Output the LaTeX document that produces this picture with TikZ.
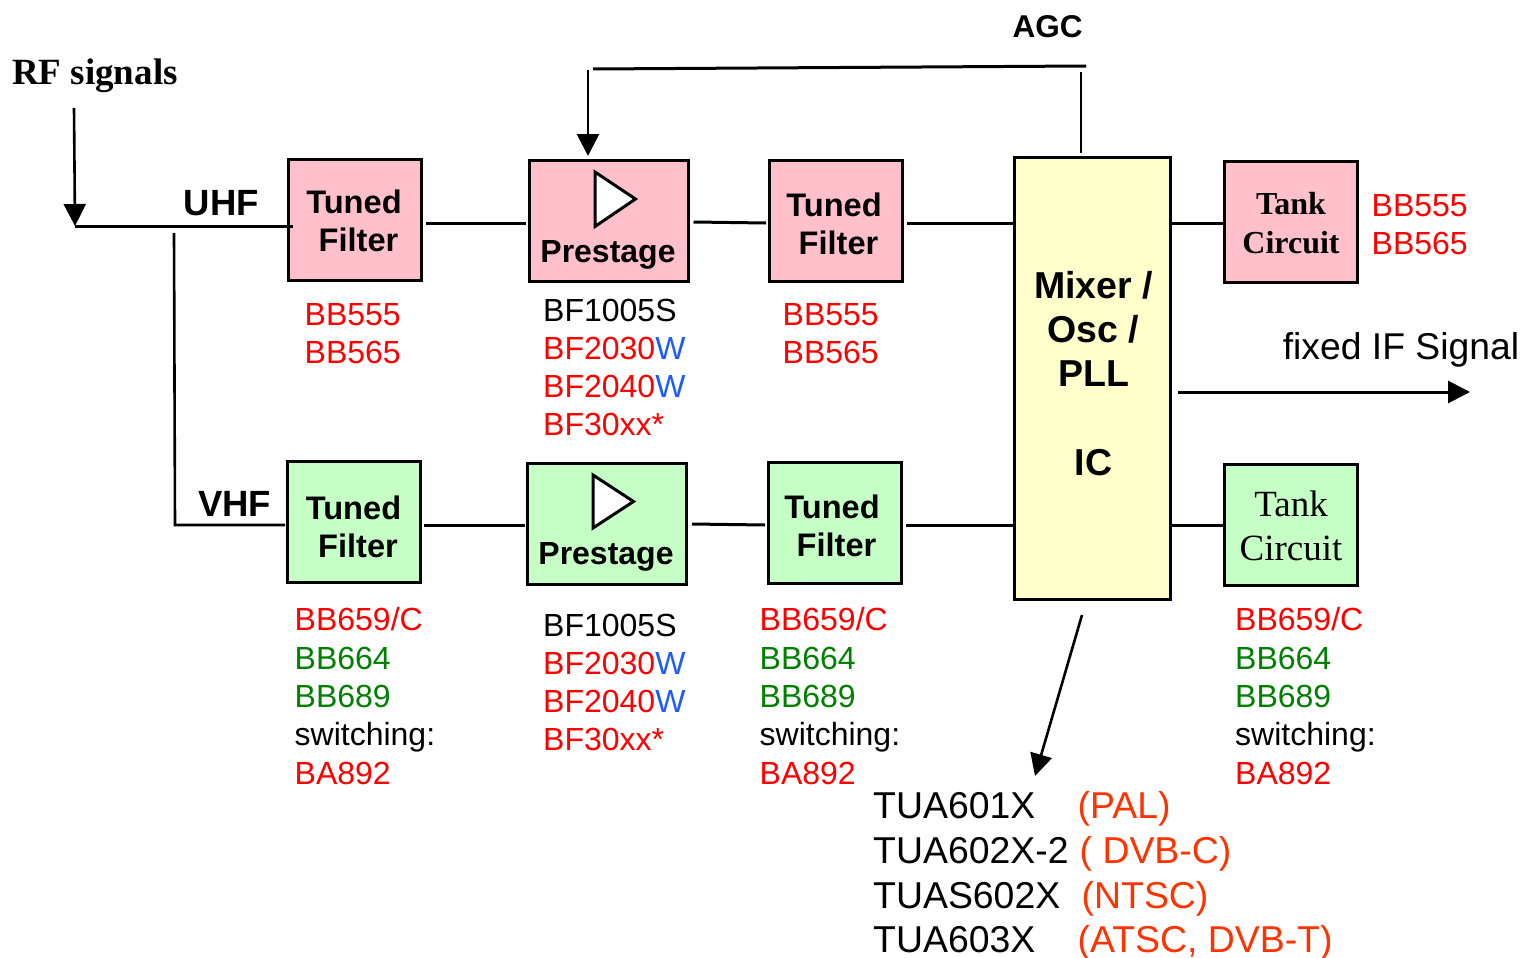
\documentclass[tikz,border=0pt]{standalone}
\usepackage{fontspec}
\setmainfont{Liberation Sans}
\newfontfamily\timesfont{Liberation Serif}
\usetikzlibrary{arrows.meta}
\definecolor{pinkbox}{HTML}{FFC0CB}
\definecolor{greenbox}{HTML}{C6FFC6}
\definecolor{yellowbox}{HTML}{FFFFCC}
\definecolor{partred}{HTML}{FF0000}
\definecolor{partblue}{HTML}{1C5CFF}
\definecolor{partgreen}{HTML}{008000}
\definecolor{stdorange}{HTML}{FF3300}
\newcommand{\fsize}[2]{\fontsize{#1}{#2}\selectfont}
\tikzset{
  wire/.style={line width=3pt},
  thinwire/.style={line width=2.6pt},
  blockbox/.style={draw,line width=3pt,inner sep=0pt},
  filterbox/.style={blockbox,minimum width=133pt,minimum height=121pt},
  prebox/.style={blockbox,minimum width=159pt,minimum height=121pt},
  tflabel/.style={inner sep=0pt,align=center,font=\fsize{32.6}{38}\bfseries},
  prelabel/.style={inner sep=0pt,font=\fsize{32}{38}\bfseries},
  parts/.style={anchor=north west,inner sep=0pt,align=left,font=\fsize{32}{38.3}},
  boldtext/.style={inner sep=0pt,font=\fsize{36.5}{40}\bfseries},
  amp/.style={draw,fill=white,line width=3pt,line join=miter}
}
\begin{document}
\begin{tikzpicture}[x=1pt,y=-1pt,>={Triangle[length=22pt,width=22pt]}]
  \useasboundingbox (0,0) rectangle (1524,958);
  \node[filterbox,fill=pinkbox] (tfuhf) at (354.5,219.5) {};
  \node[prebox,fill=pinkbox] (preuhf) at (608.5,220.5) {};
  \node[filterbox,fill=pinkbox] (tfuhfb) at (836,220.5) {};
  \node[blockbox,fill=yellowbox,minimum width=156pt,minimum height=442pt] (mixer) at (1092,378) {};
  \node[filterbox,fill=pinkbox] (tankuhf) at (1290.5,222) {};
  \node[filterbox,fill=greenbox] (tfvhf) at (353.5,522) {};
  \node[prebox,fill=greenbox] (prevhf) at (607,523.5) {};
  \node[filterbox,fill=greenbox] (tfvhfb) at (834.5,523) {};
  \node[filterbox,fill=greenbox] (tankvhf) at (1290.5,524.5) {};
  \draw[amp] (595,172) -- (635.5,199) -- (595,226.5) -- cycle;
  \draw[amp] (593,475) -- (633.5,501.5) -- (593,528) -- cycle;
  \node[tflabel] (tflabua) at (354,220.5) {Tuned\\\hspace*{9pt}Filter};
  \node[tflabel] (tflabub) at (834,224) {Tuned\\\hspace*{9pt}Filter};
  \node[tflabel] (tflabva) at (353.5,527) {Tuned\\\hspace*{9pt}Filter};
  \node[tflabel] (tflabvb) at (832,526) {Tuned\\\hspace*{9pt}Filter};
  \node[inner sep=0pt,align=center,font=\fsize{32}{39}\timesfont\bfseries] (tanklabu) at (1291,223.5) {Tank\\Circuit};
  \node[inner sep=0pt,align=center,font=\fsize{37}{44}\timesfont] (tanklabv) at (1291,526) {Tank\\Circuit};
  \node[prelabel] (prelabu) at (608,254.5) {Prestage};
  \node[prelabel] (prelabv) at (606,556.5) {Prestage};
  \node[inner sep=0pt,align=center,font=\fsize{37.5}{44}\bfseries] (mixlabel) at (1093.5,373.5) {Mixer /\\Osc /\\PLL\\[44.3pt]IC};
  \node[boldtext,anchor=west,font=\fsize{37}{40}\timesfont\bfseries] (rflabel) at (12,76) {RF signals};
  \node[boldtext] (uhflabel) at (221.5,203) {UHF};
  \node[boldtext] (vhflabel) at (234.5,504) {VHF};
  \node[boldtext,font=\fsize{31.5}{36}\bfseries] (agclabel) at (1047.5,26.5) {AGC};
  \node[inner sep=0pt,font=\fsize{37.3}{44}] (iflabel) at (1401,350) {fixed IF Signal};
  \node[parts,text=partred] (uhfa) at (304.5,303) {BB555\\BB565};
  \node[parts] (uhfb) at (543,298.5) {BF1005S\\\textcolor{partred}{BF2030}\textcolor{partblue}{W}\\\textcolor{partred}{BF2040}\textcolor{partblue}{W}\\\textcolor{partred}{BF30xx*}};
  \node[parts,text=partred] (uhfc) at (782.5,303) {BB555\\BB565};
  \node[parts,text=partred] (uhfd) at (1371.5,194) {BB555\\BB565};
  \node[parts] (vhfa) at (294.5,607.5) {\textcolor{partred}{BB659/C}\\\textcolor{partgreen}{BB664}\\\textcolor{partgreen}{BB689}\\switching:\\\textcolor{partred}{BA892}};
  \node[parts] (vhfb) at (543,613.5) {BF1005S\\\textcolor{partred}{BF2030}\textcolor{partblue}{W}\\\textcolor{partred}{BF2040}\textcolor{partblue}{W}\\\textcolor{partred}{BF30xx*}};
  \node[parts] (vhfc) at (759.5,607.5) {\textcolor{partred}{BB659/C}\\\textcolor{partgreen}{BB664}\\\textcolor{partgreen}{BB689}\\switching:\\\textcolor{partred}{BA892}};
  \node[parts] (vhfd) at (1235,607.5) {\textcolor{partred}{BB659/C}\\\textcolor{partgreen}{BB664}\\\textcolor{partgreen}{BB689}\\switching:\\\textcolor{partred}{BA892}};
  \node[anchor=north west,inner sep=0pt,align=left,font=\fsize{37.4}{44.7}] (tualist) at (873,791.5)
    {\makebox[204.5pt][l]{TUA601X}\textcolor{stdorange}{(PAL)}\\
     \makebox[206.5pt][l]{TUA602X-2}\textcolor{stdorange}{( DVB-C)}\\
     \makebox[208.5pt][l]{TUAS602X}\textcolor{stdorange}{(NTSC)}\\
     \makebox[204.5pt][l]{TUA603X}\textcolor{stdorange}{(ATSC, DVB-T)}};
  \coordinate (rftop) at (74,108);
  \coordinate (rfjoin) at (75,226);
  \coordinate (vhftop) at (174,233);
  \coordinate (vhfcorner) at (175,525);
  \coordinate (vhfend) at (285,525);
  \coordinate (agcup) at (1081,153);
  \coordinate (agctop) at (1081,72);
  \coordinate (agcright) at (1086,66);
  \coordinate (agcleft) at (593,69);
  \coordinate (agcdrop) at (588,70);
  \coordinate (prearrow) at (588,156);
  \coordinate (ifstart) at (1178,392);
  \coordinate (ifout) at (1470,392);
  \coordinate (icbottom) at (1082,615);
  \coordinate (icarrow) at (1035,776);
  \draw[thinwire,->] (rftop) -- (rfjoin);
  \draw[wire] (rfjoin) -- ([yshift=-6.5pt,xshift=6pt]tfuhf.west);
  \draw[thinwire] (vhftop) -- (vhfcorner) -- (vhfend);
  \draw[wire] ([xshift=3pt,yshift=-3.5pt]tfuhf.east) -- ([xshift=-2pt,yshift=-2.5pt]preuhf.west);
  \draw[wire] ([xshift=4pt,yshift=-1.5pt]preuhf.east) -- ([xshift=-2pt,yshift=-2.5pt]tfuhfb.west);
  \draw[wire] ([xshift=3pt,yshift=-2.5pt]tfuhfb.east) -- ([yshift=155pt]mixer.west);
  \draw[wire] ([yshift=155pt]mixer.east) -- ([yshift=-1pt]tankuhf.west);
  \draw[wire] ([xshift=2.5pt,yshift=-3pt]tfvhf.east) -- ([xshift=-1.5pt,yshift=-1.5pt]prevhf.west);
  \draw[wire] ([xshift=4pt,yshift=-0.5pt]prevhf.east) -- ([xshift=-1.5pt,yshift=-2pt]tfvhfb.west);
  \draw[wire] ([xshift=3pt,yshift=-2pt]tfvhfb.east) -- ([yshift=-147pt]mixer.west);
  \draw[wire] ([yshift=-147pt]mixer.east) -- ([yshift=-0.5pt]tankvhf.west);
  \draw[thinwire] (agcup) -- (agctop);
  \draw[wire] (agcright) -- (agcleft);
  \draw[thinwire,->] (agcdrop) -- (prearrow);
  \draw[wire,->] (ifstart) -- (ifout);
  \draw[thinwire,->] (icbottom) -- (icarrow);
\end{tikzpicture}
\end{document}
